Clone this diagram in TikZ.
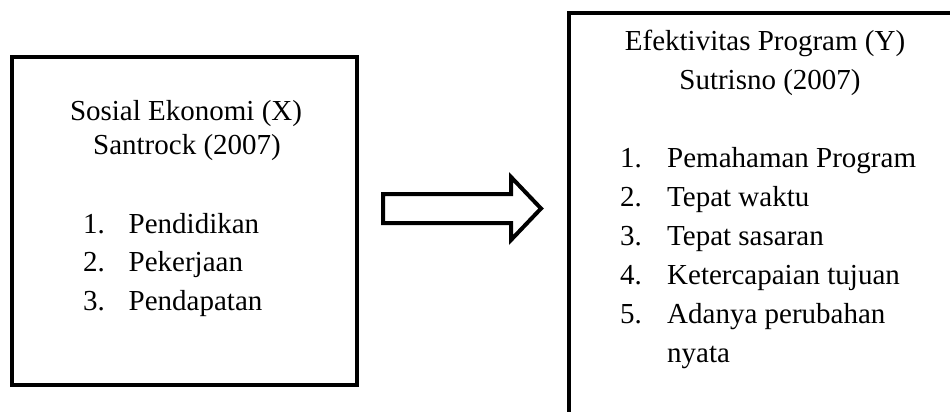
\documentclass[tikz,border=0pt]{standalone}
\usepackage{fontspec}
\setmainfont{Liberation Serif}
\begin{document}
\begin{tikzpicture}[x=1pt,y=-1pt,
  boxst/.style={draw=black, line width=4pt, inner sep=0pt, minimum width=#1},
  txt/.style={inner sep=0pt, font=\fontsize{29}{39}\selectfont},
  arrowst/.style={draw=black, line width=4pt, line join=miter, fill=white}]
\useasboundingbox (0,0) rectangle (950,412);
% boxes
\node[boxst=345pt, minimum height=328pt] (left) at (184.5,221) {};
\node[boxst=401pt, minimum height=417pt] (right) at (769.5,221.5) {};
% left box text
\node[txt, anchor=base] (lt1) at (186,120) {Sosial Ekonomi (X)};
\node[txt, anchor=base] (lt2) at (187,154) {Santrock (2007)};
\node[txt, anchor=base west] (ln1) at (83,233) {1.};
\node[txt, anchor=base west] (ln2) at (83,271.5) {2.};
\node[txt, anchor=base west] (ln3) at (83,310) {3.};
\node[txt, anchor=base west] (li1) at (128.5,233) {Pendidikan};
\node[txt, anchor=base west] (li2) at (128.5,271.5) {Pekerjaan};
\node[txt, anchor=base west] (li3) at (128.5,310) {Pendapatan};
% right box text
\node[txt, anchor=base] (rt1) at (765,51) {Efektivitas Program (Y)};
\node[txt, anchor=base] (rt2) at (770,89) {Sutrisno (2007)};
\node[txt, anchor=base west] (rn1) at (620,167) {1.};
\node[txt, anchor=base west] (rn2) at (620,206) {2.};
\node[txt, anchor=base west] (rn3) at (620,245) {3.};
\node[txt, anchor=base west] (rn4) at (620,284) {4.};
\node[txt, anchor=base west] (rn5) at (620,323) {5.};
\node[txt, anchor=base west] (ri1) at (667,167) {Pemahaman Program};
\node[txt, anchor=base west] (ri2) at (667,206) {Tepat waktu};
\node[txt, anchor=base west] (ri3) at (667,245) {Tepat sasaran};
\node[txt, anchor=base west] (ri4) at (667,284) {Ketercapaian tujuan};
\node[txt, anchor=base west] (ri5) at (667,323) {Adanya perubahan};
\node[txt, anchor=base west] (ri6) at (667,362) {nyata};
% block arrow
\draw[arrowst] (383,194) -- (511,194) -- (511,177) -- (541,208.5)
  -- (511,240) -- (511,223) -- (383,223) -- cycle;
\end{tikzpicture}
\end{document}
